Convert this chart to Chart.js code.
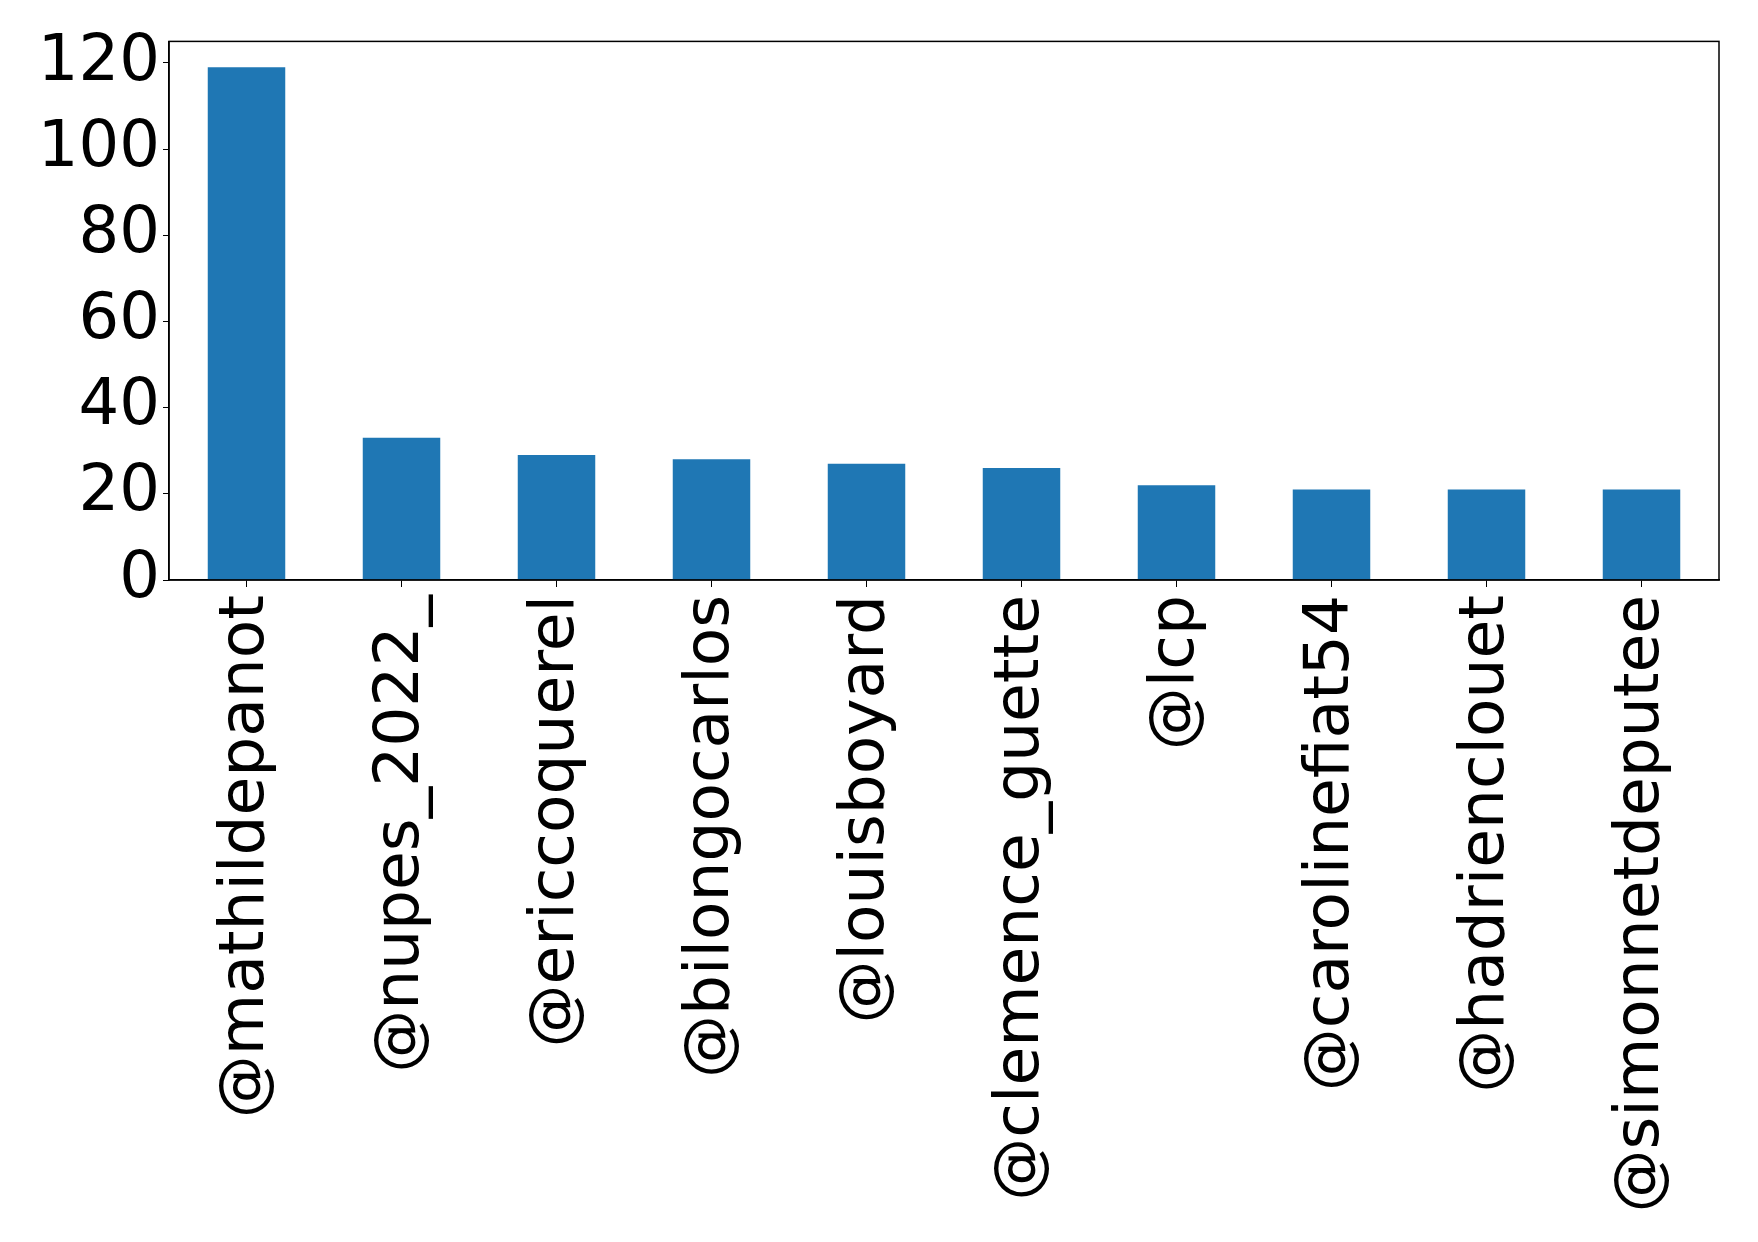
<!DOCTYPE html>
<html>
<head>
<meta charset="utf-8">
<script src="https://cdn.jsdelivr.net/npm/chart.js@4"></script>
<style>
  html, body { margin: 0; padding: 0; background: #fff; }
</style>
</head>
<body>
<canvas id="chartMentions" width="1758" height="1242"></canvas>
<script>
const accounts = [
  "@mathildepanot", "@nupes_2022_", "@ericcoquerel", "@bilongocarlos",
  "@louisboyard", "@clemence_guette", "@lcp", "@carolinefiat54",
  "@hadrienclouet", "@simonnetdeputee"
];
const mentions = [119, 33, 29, 28, 27, 26, 22, 21, 21, 21];
const yTicks = [0, 20, 40, 60, 80, 100, 120];

// closes the frame on top and right, like the matplotlib axes box
const frame = {
  id: "frame",
  afterDraw(chart) {
    const { ctx, chartArea: a } = chart;
    ctx.save();
    ctx.strokeStyle = "#000";
    ctx.lineWidth = 1.5;
    ctx.strokeRect(a.left, a.top, a.right - a.left, a.bottom - a.top);
    ctx.restore();
  },
};

const ctx = document.getElementById("chartMentions").getContext("2d");
new Chart(ctx, {
  type: "bar",
  data: {
    labels: accounts,
    datasets: [{
      data: mentions,
      backgroundColor: "#1f77b4",
      categoryPercentage: 1,
      barPercentage: 0.5,
    }],
  },
  options: {
    responsive: false,
    devicePixelRatio: 1,
    animation: false,
    layout: { padding: { top: 37, right: 39, left: 0, bottom: 0 } },
    plugins: { legend: { display: false }, tooltip: { enabled: false } },
    scales: {
      x: {
        grid: { drawOnChartArea: false, tickLength: 7, tickColor: "#000", color: "#000", offset: false },
        border: { display: true, color: "#000", width: 1.5 },
        ticks: {
          color: "#000",
          font: { family: "DejaVu Sans", size: 63 },
          minRotation: 90,
          maxRotation: 90,
          padding: 8,
          autoSkip: false,
        },
        afterFit(scale) { scale.height = 662; },
      },
      y: {
        min: 0,
        max: 125,
        grid: { drawOnChartArea: false, tickLength: 6, tickColor: "#000", color: "#000" },
        border: { display: true, color: "#000", width: 1.5 },
        ticks: {
          color: "#000",
          font: { family: "DejaVu Sans", size: 64 },
          padding: 3,
        },
        afterBuildTicks(axis) { axis.ticks = yTicks.map((v) => ({ value: v })); },
        afterFit(scale) { scale.width = 169; },
      },
    },
  },
  plugins: [frame],
});
</script>
</body>
</html>
